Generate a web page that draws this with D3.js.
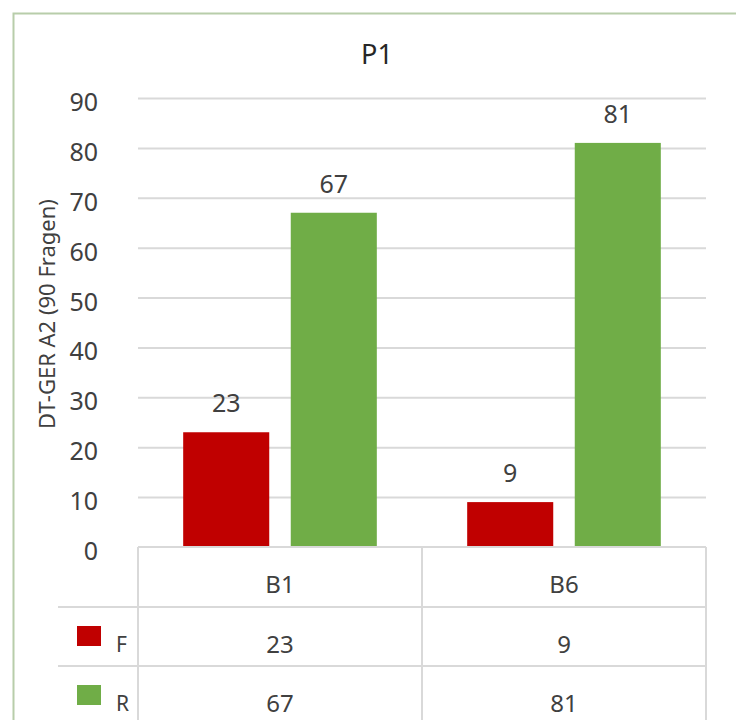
<!DOCTYPE html>
<html>
<head>
<meta charset="utf-8">
<script src="https://cdn.jsdelivr.net/npm/d3@7"></script>
<style>
  html, body { margin: 0; padding: 0; background: #ffffff; }
  svg { display: block; font-family: "Noto Sans", "Open Sans", sans-serif; }
</style>
</head>
<body>
<svg id="chart" width="736" height="720"></svg>
<script>
// Chart data
const title = "P1";
const yLabel = "DT-GER A2 (90 Fragen)";
const categories = ["B1", "B6"];
const seriesNames = ["F", "R"];
const valuesF = [23, 9];
const valuesR = [67, 81];
const yTicks = [0, 10, 20, 30, 40, 50, 60, 70, 80, 90];
const seriesColors = ["#C00000", "#70AD47"];

const series = [
  { name: seriesNames[0], values: valuesF, color: seriesColors[0] },
  { name: seriesNames[1], values: valuesR, color: seriesColors[1] }
];

const svg = d3.select("#chart");
const textColor = "#404040";
const gridColor = "#d9d9d9";
const fontFamily = "'Noto Sans', 'Open Sans', sans-serif";

// Outer frame
svg.append("rect")
  .attr("x", 13.5).attr("y", 13.5)
  .attr("width", 740).attr("height", 740)
  .attr("fill", "none")
  .attr("stroke", "#b8cdaa")
  .attr("stroke-width", 2);

const plot = { left: 138, right: 706, top: 98, bottom: 547 };

const x = d3.scaleBand()
  .domain(categories)
  .range([plot.left, plot.right])
  .paddingInner(0).paddingOuter(0);

const xs = d3.scaleBand()
  .domain(seriesNames)
  .range([0, x.bandwidth()])
  .paddingInner(0.2)
  .paddingOuter(0.42);

const y = d3.scaleLinear()
  .domain([0, 90])
  .range([plot.bottom, plot.top]);

// Title
svg.append("text")
  .attr("x", 377).attr("y", 64)
  .attr("text-anchor", "middle")
  .attr("font-size", 27)
  .attr("fill", "#262626")
  .text(title);

// Gridlines and y tick labels
const yAxis = d3.axisLeft(y)
  .tickValues(yTicks)
  .tickSize(-(plot.right - plot.left))
  .tickPadding(40)
  .tickFormat(d3.format("d"));

const gy = svg.append("g")
  .attr("transform", `translate(${plot.left},0)`)
  .call(yAxis)
  .attr("font-size", 25)
  .attr("font-family", fontFamily);
gy.select(".domain").remove();
gy.selectAll(".tick line")
  .attr("stroke", gridColor)
  .attr("stroke-width", 2)
  .filter(d => d === 0).remove();
gy.selectAll(".tick text")
  .attr("fill", textColor)
  .attr("dy", "0.5em");

// Y axis title
svg.append("text")
  .attr("transform", `translate(55,314) rotate(-90)`)
  .attr("text-anchor", "middle")
  .attr("font-size", 22)
  .attr("fill", textColor)
  .text(yLabel);

// Bars
const groups = svg.append("g").selectAll("g")
  .data(categories)
  .join("g")
  .attr("transform", d => `translate(${x(d)},0)`);

groups.selectAll("rect")
  .data((c, i) => series.map(s => ({ name: s.name, value: s.values[i], color: s.color })))
  .join("rect")
  .attr("x", d => xs(d.name))
  .attr("width", xs.bandwidth())
  .attr("y", d => y(d.value))
  .attr("height", d => y(0) - y(d.value))
  .attr("fill", d => d.color);

// Value labels above bars
groups.selectAll("text.val")
  .data((c, i) => series.map(s => ({ name: s.name, value: s.values[i] })))
  .join("text")
  .attr("class", "val")
  .attr("x", d => xs(d.name) + xs.bandwidth() / 2)
  .attr("y", d => y(d.value) - 20)
  .attr("text-anchor", "middle")
  .attr("font-size", 25)
  .attr("fill", textColor)
  .text(d => d.value);

// Data table below the plot
const rowH = 59;
const headerTop = plot.bottom;
const tableLeft = 58;
const table = svg.append("g").attr("stroke", gridColor).attr("stroke-width", 2);

// top line of the header row, over the category cells
table.append("line")
  .attr("x1", plot.left).attr("x2", plot.right)
  .attr("y1", headerTop).attr("y2", headerTop);
// horizontal lines below header and F row
[1, 2].forEach(r => {
  table.append("line")
    .attr("x1", tableLeft).attr("x2", plot.right)
    .attr("y1", headerTop + rowH * r + 1).attr("y2", headerTop + rowH * r + 1);
});
// vertical lines
[plot.left, plot.left + x.bandwidth(), plot.right].forEach(vx => {
  table.append("line")
    .attr("x1", vx).attr("x2", vx)
    .attr("y1", headerTop).attr("y2", 720);
});

// Header labels
svg.append("g").selectAll("text")
  .data(categories)
  .join("text")
  .attr("x", d => x(d) + x.bandwidth() / 2)
  .attr("y", headerTop + 46)
  .attr("text-anchor", "middle")
  .attr("font-size", 24)
  .attr("fill", textColor)
  .text(d => d);

// Series rows with legend keys
series.forEach((s, r) => {
  const top = headerTop + rowH * (r + 1) + 1;
  svg.append("rect")
    .attr("x", 77).attr("y", top + 19)
    .attr("width", 24).attr("height", 20)
    .attr("fill", s.color);
  svg.append("text")
    .attr("x", 116).attr("y", top + 45)
    .attr("font-size", 21)
    .attr("fill", textColor)
    .text(s.name);
  svg.append("g").selectAll("text")
    .data(categories)
    .join("text")
    .attr("x", d => x(d) + x.bandwidth() / 2)
    .attr("y", top + 46)
    .attr("text-anchor", "middle")
    .attr("font-size", 24)
    .attr("fill", textColor)
    .text((d, i) => s.values[i]);
});
</script>
</body>
</html>
